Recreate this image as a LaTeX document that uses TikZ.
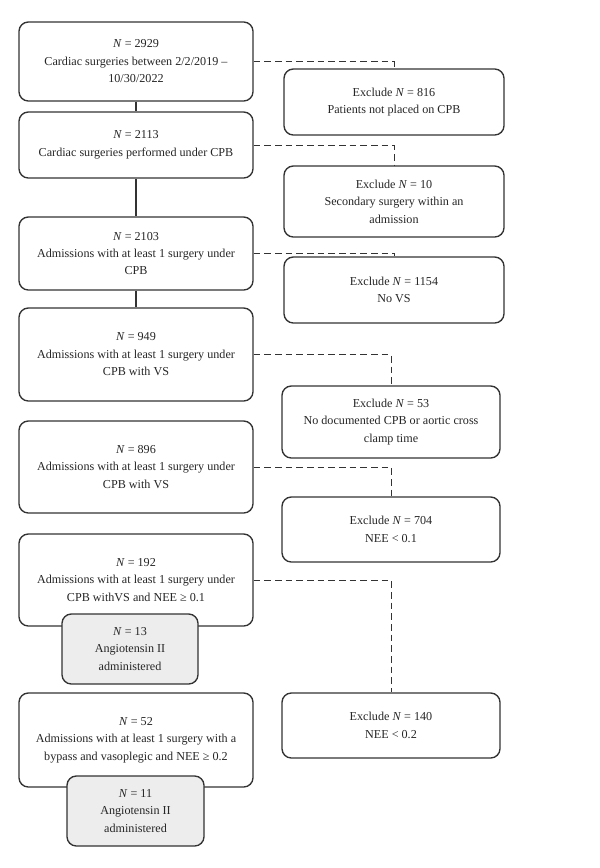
\documentclass[tikz,border=0pt]{standalone}
\usepackage{fontspec}
\setmainfont{Liberation Serif}
\usepackage{amsmath, amssymb}
\tikzset{every picture/.style={line width=0.75pt}}
\tikzset{
  stage/.style={draw=black!80, line width=1pt, rounded corners=7pt, fill=white, align=center,
    text=black!85, font=\fontsize{9.1}{13.1}\selectfont, inner sep=0pt},
  exclbox/.style={stage},
  subbox/.style={stage, fill=black!7},
  exclline/.style={draw=black!80, dash pattern=on 5pt off 3pt},
}

\begin{document}
\begin{tikzpicture}[x=0.75pt,y=0.75pt,yscale=-1,xscale=1]
\useasboundingbox (0,0) rectangle (600,868);

%Shape: Rounded Rect [main column]
\node [stage, minimum width=175.5pt, minimum height=59.25pt] (b1) at (136,61.5) {\textit{N} = 2929\\Cardiac surgeries between 2/2/2019 --\\10/30/2022};
\node [stage, minimum width=175.5pt, minimum height=49.5pt] (b2) at (136,145) {\textit{N} = 2113\\Cardiac surgeries performed under CPB};
\node [stage, minimum width=175.5pt, minimum height=54.75pt] (b3) at (136,253.5) {\textit{N} = 2103\\Admissions with at least 1 surgery under\\CPB};
\node [stage, minimum width=175.5pt, minimum height=69.75pt] (b4) at (136,354.5) {\textit{N} = 949\\Admissions with at least 1 surgery under\\CPB with VS};
\node [stage, minimum width=175.5pt, minimum height=69pt] (b5) at (136,467) {\textit{N} = 896\\Admissions with at least 1 surgery under\\CPB with VS};
\node [stage, minimum width=175.5pt, minimum height=69pt] (b6) at (136,580) {\textit{N} = 192\\Admissions with at least 1 surgery under\\CPB withVS and NEE ≥ 0.1};
\node [stage, minimum width=175.5pt, minimum height=70.5pt] (b7) at (136,740) {\textit{N} = 52\\Admissions with at least 1 surgery with a\\bypass and vasoplegic and NEE ≥ 0.2};

%Shape: Rounded Rect [sub boxes]
\node [subbox, minimum width=102pt, minimum height=52.5pt] (s1) at (130,649) {\textit{N} = 13\\Angiotensin II\\administered};
\node [subbox, minimum width=102.75pt, minimum height=52.5pt] (s2) at (135.5,811) {\textit{N} = 11\\Angiotensin II\\administered};

%Shape: Rounded Rect [exclusions]
\node [exclbox, minimum width=165pt, minimum height=49.5pt] (e1) at (394,102) {Exclude \textit{N} = 816\\Patients not placed on CPB};
\node [exclbox, minimum width=165pt, minimum height=53.25pt] (e2) at (394,201.5) {Exclude \textit{N} = 10\\Secondary surgery within an\\admission};
\node [exclbox, minimum width=165pt, minimum height=49.5pt] (e3) at (394,290) {Exclude \textit{N} = 1154\\No VS};
\node [exclbox, minimum width=163.5pt, minimum height=54pt] (e4) at (391,422) {Exclude \textit{N} = 53\\No documented CPB or aortic cross\\clamp time};
\node [exclbox, minimum width=163.5pt, minimum height=48.75pt] (e5) at (391,529.5) {Exclude \textit{N} = 704\\NEE < 0.1};
\node [exclbox, minimum width=163.5pt, minimum height=48.75pt] (e6) at (391,725.5) {Exclude \textit{N} = 140\\NEE < 0.2};

%Straight Lines
\draw [draw=black!80, line width=1pt] (b1.south) -- (b2.north);
\draw [draw=black!80, line width=1pt] (b2.south) -- (b3.north);
\draw [draw=black!80, line width=1pt] (b3.south) -- (b4.north);

%Dashed Lines
\draw [exclline] (b1.east) -| (e1.north);
\draw [exclline] (b2.east) -| (e2.north);
\draw [exclline] (b3.east) -| (e3.north);
\draw [exclline] (b4.east) -| (e4.north);
\draw [exclline] (b5.east) -| (e5.north);
\draw [exclline] (b6.east) -| (e6.north);

\end{tikzpicture}
\end{document}
